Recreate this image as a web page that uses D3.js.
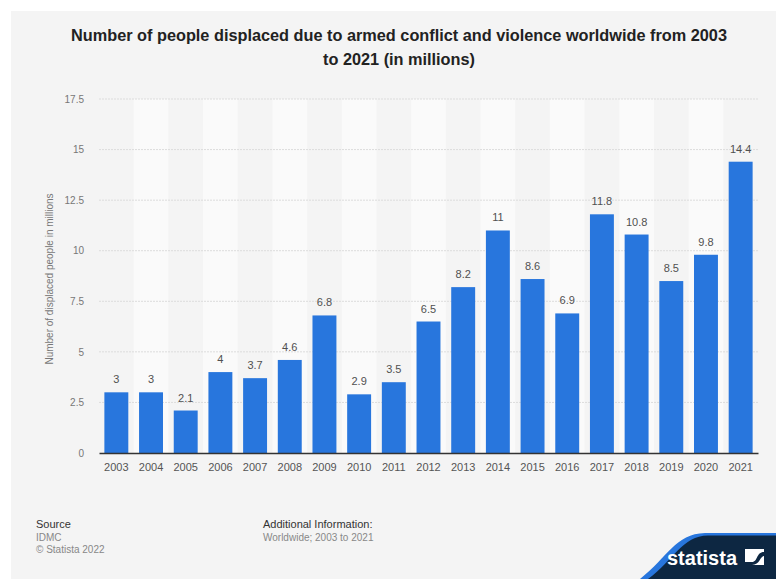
<!DOCTYPE html>
<html><head><meta charset="utf-8">
<script src="https://cdn.jsdelivr.net/npm/d3@7"></script>
<style>body{margin:0;background:#fff;}svg{display:block;font-family:"Liberation Sans",Arial,sans-serif;}</style>
</head><body><svg id="c" width="776" height="579"></svg>
<script>
const years = ["2003","2004","2005","2006","2007","2008","2009","2010","2011","2012","2013","2014","2015","2016","2017","2018","2019","2020","2021"];
const values = [3,3,2.1,4,3.7,4.6,6.8,2.9,3.5,6.5,8.2,11,8.6,6.9,11.8,10.8,8.5,9.8,14.4];
const yTicks = [0,2.5,5,7.5,10,12.5,15,17.5];
const title = ["Number of people displaced due to armed conflict and violence worldwide from 2003","to 2021 (in millions)"];
const yTitle = "Number of displaced people in millions";

const svg = d3.select("#c");
svg.append("rect").attr("x",11).attr("y",11).attr("width",765).attr("height",568).attr("fill","#f4f4f4");

const L=99,R=758,T=99,B=453;
const x = d3.scaleBand().domain(years).range([L,R]).paddingInner(0.31).paddingOuter(0.155);
const xb = d3.scaleBand().domain(years).range([L,R]);
const y = d3.scaleLinear().domain([0,17.5]).range([B,T]);

svg.append("g").selectAll("rect").data(years.filter((d,i)=>i%2===1)).join("rect")
  .attr("x",d=>xb(d)).attr("width",xb.bandwidth()).attr("y",T).attr("height",B-T).attr("fill","#fafafa");

svg.append("g").selectAll("line").data(yTicks.slice(1)).join("line")
  .attr("x1",L).attr("x2",R).attr("y1",d=>y(d)).attr("y2",d=>y(d))
  .attr("stroke","#dcdcdc").attr("stroke-dasharray","2,1");

const ya = d3.axisLeft(y).tickValues(yTicks).tickFormat(d=>d).tickSize(0).tickPadding(0);
const gy = svg.append("g").attr("transform",`translate(${84},0)`).call(ya);
gy.select(".domain").remove();
gy.selectAll("text").attr("fill","#777").attr("font-size","10px").attr("font-family","Liberation Sans, Arial");

svg.append("g").selectAll("rect").data(values).join("rect")
  .attr("x",(d,i)=>x(years[i])).attr("width",x.bandwidth())
  .attr("y",d=>y(d)).attr("height",d=>B-y(d)).attr("fill","#2876dd");

svg.append("g").selectAll("text").data(values).join("text")
  .attr("x",(d,i)=>x(years[i])+x.bandwidth()/2).attr("y",d=>y(d)-9)
  .attr("text-anchor","middle").attr("font-size","11px").attr("fill","#505050").text(d=>d);

const xa = d3.axisBottom(xb).tickSize(0).tickPadding(10);
const gx = svg.append("g").attr("transform",`translate(0,${B})`).call(xa);
gx.select(".domain").attr("stroke","#333").attr("stroke-width",1.3);
gx.selectAll("text").attr("fill","#555").attr("font-size","11px").attr("font-family","Liberation Sans, Arial");

svg.append("text").attr("transform",`translate(53,${(T+B)/2+3}) rotate(-90)`)
  .attr("text-anchor","middle").attr("font-size","10px").attr("fill","#777").text(yTitle);

svg.append("g").selectAll("text").data(title).join("text")
  .attr("x",399).attr("y",(d,i)=>41+i*24).attr("text-anchor","middle")
  .attr("font-size","16.3px").attr("font-weight","bold").attr("fill","#222").text(d=>d);

const foot = svg.append("g").attr("font-size","10px");
foot.append("text").attr("x",36).attr("y",528).attr("fill","#333").attr("font-size","11px").text("Source");
foot.append("text").attr("x",36).attr("y",541).attr("fill","#888").text("IDMC");
foot.append("text").attr("x",36).attr("y",553).attr("fill","#888").text("© Statista 2022");
foot.append("text").attr("x",263).attr("y",528).attr("fill","#333").attr("font-size","11px").text("Additional Information:");
foot.append("text").attr("x",263).attr("y",541).attr("fill","#888").text("Worldwide; 2003 to 2021");

// logo
svg.append("path").attr("d","M640,579 C668,557 675,534 705,533 L776,533 L776,579 Z").attr("fill","#2876dd");
svg.append("path").attr("d","M648,579 C674,560 682,536 708,535.5 L776,535.5 L776,579 Z").attr("fill","#0d2742");
svg.append("text").attr("x",667).attr("y",565).attr("fill","#fff").attr("font-size","20px").attr("font-weight","bold")
  .attr("font-family","Liberation Sans Narrow, Liberation Sans, Arial").text("statista");
svg.append("rect").attr("x",745).attr("y",549).attr("width",19).attr("height",16).attr("fill","#fff");
svg.append("path").attr("d","M745,562 L752,562 C758,562 756,552 764,552 L764,556 C760,556 760,565 752,565 L745,565 Z").attr("fill","#0d2742");
</script></body></html>
